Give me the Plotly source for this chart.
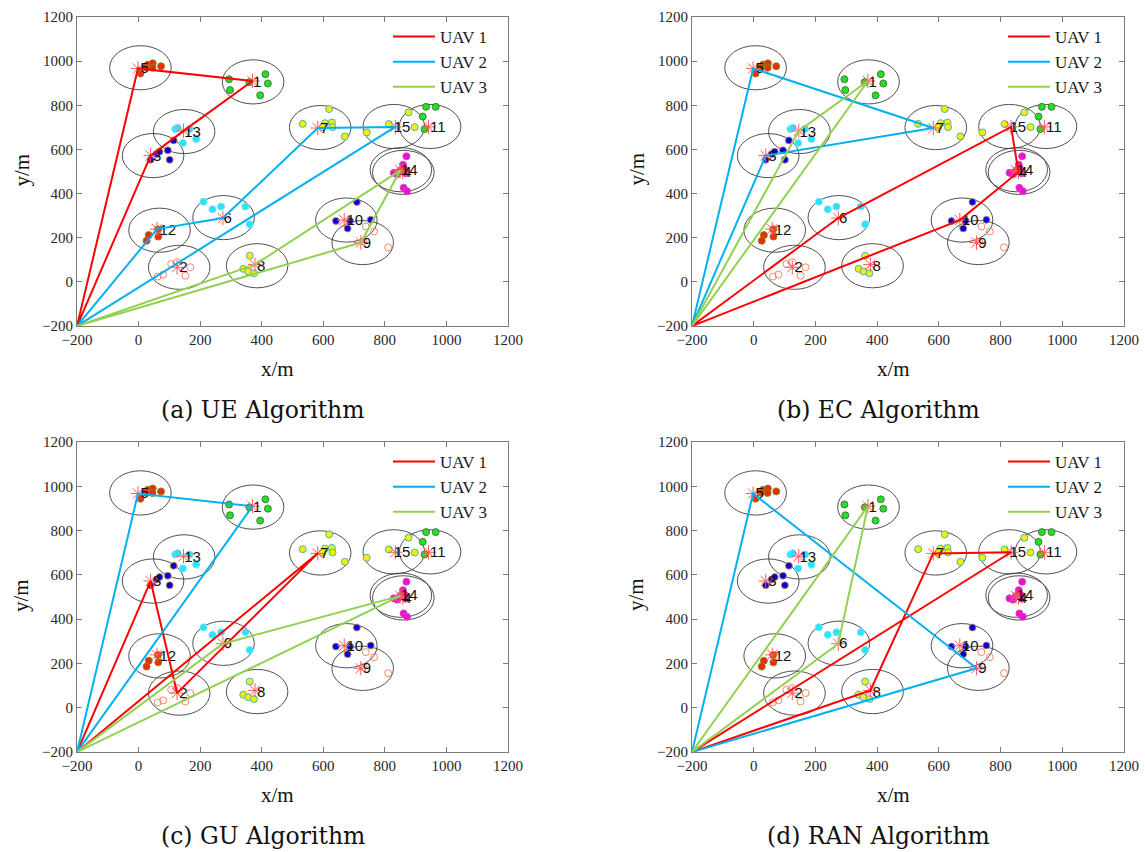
import plotly.graph_objects as go

# ---------------- data ----------------
cluster_ids = list(range(1, 16))
center_x = [372, 132, 47, 860, 6, 276, 590, 385, 728, 675, 947, 68, 148, 852, 829]
center_y = [906, 66, 572, 496, 970, 291, 699, 73, 178, 280, 704, 234, 681, 508, 704]
star_x = [370, 125, 39, 858, -2, 274, 582, 378, 722, 668, 942, 60, 146, 850, 834]
star_y = [910, 66, 572, 498, 967, 289, 697, 78, 178, 280, 702, 239, 684, 505, 702]
cluster_radius = 100
base_x, base_y = -200, -200

# users per cluster
users_1_x = [294, 412, 420, 297, 395, 360]
users_1_y = [918, 941, 899, 869, 845, 905]
users_2_x = [106, 125, 168, 152, 62, 80]
users_2_y = [81, 89, 66, 28, 24, 33]
users_3_x = [39, 58, 68, 95, 101, 114]
users_3_y = [553, 579, 590, 596, 553, 641]
users_4_x = [852, 868, 840]
users_4_y = [505, 492, 488]
users_5_x = [6, 30, 46, 45, 73, 22]
users_5_y = [944, 984, 990, 970, 977, 972]
users_6_x = [211, 240, 268, 347, 361]
users_6_y = [363, 329, 341, 341, 261]
users_7_x = [533, 619, 606, 628, 630, 670, 598]
users_7_y = [716, 783, 719, 722, 701, 659, 701]
users_8_x = [361, 340, 356, 375]
users_8_y = [118, 59, 47, 39]
users_9_x = [738, 765, 811, 730]
users_9_y = [251, 228, 156, 184]
users_10_x = [709, 641, 687, 754, 679]
users_10_y = [362, 276, 276, 281, 242]
users_11_x = [934, 965, 923, 929]
users_11_y = [793, 793, 749, 692]
users_12_x = [33, 64, 63, 26]
users_12_y = [212, 205, 238, 186]
users_13_x = [119, 127, 166, 144, 187]
users_13_y = [692, 698, 692, 629, 647]
users_14_x = [870, 859, 865, 829, 845, 861, 872]
users_14_y = [569, 531, 509, 494, 497, 426, 411]
users_15_x = [813, 741, 897, 877]
users_15_y = [715, 677, 701, 768]

users_x = [users_1_x, users_2_x, users_3_x, users_4_x, users_5_x, users_6_x, users_7_x, users_8_x,
           users_9_x, users_10_x, users_11_x, users_12_x, users_13_x, users_14_x, users_15_x]
users_y = [users_1_y, users_2_y, users_3_y, users_4_y, users_5_y, users_6_y, users_7_y, users_8_y,
           users_9_y, users_10_y, users_11_y, users_12_y, users_13_y, users_14_y, users_15_y]
user_group = ["green", "salmon", "blue", "magenta", "red", "cyan", "yellow", "yellow",
              "salmon", "blue", "green", "red", "cyan", "magenta", "yellow"]

# UAV routes (cluster ids visited, starting and ending at base)
panel_titles = ["(a) UE Algorithm", "(b) EC Algorithm", "(c) GU Algorithm", "(d) RAN Algorithm"]
routes_uav1 = [[3, 13, 1, 5], [6, 15, 4, 10], [3, 2, 7], [8, 7, 15]]
routes_uav2 = [[12, 6, 7, 15], [5, 7, 3], [5, 1], [5, 9]]
routes_uav3 = [[8, 14, 9], [13, 1], [6, 14], [6, 1]]
uav_names = ["UAV 1", "UAV 2", "UAV 3"]

tick_vals = [-200, 0, 200, 400, 600, 800, 1000, 1200]

# ---------------- style ----------------
W, H = 1145, 852
uav_colors = ["#ff0000", "#00b0f0", "#92d050"]
group_style = {
    "red": dict(fill="#f02a10", edge="#7a8a10"),
    "green": dict(fill="#22e022", edge="#4a6a4a"),
    "cyan": dict(fill="#20e8f8", edge="#80d8ff"),
    "blue": dict(fill="#0000dd", edge="#d09060"),
    "yellow": dict(fill="#f2f200", edge="#3aa8d0"),
    "magenta": dict(fill="#f010d0", edge="#d040c0"),
    "salmon": dict(fill="rgba(0,0,0,0)", edge="#f07a5a"),
}
# panel geometry in pixels (left, right, top, bottom)
panel_px = [(77, 508, 17, 326), (692, 1124, 17, 326), (77, 508, 442, 752), (692, 1124, 442, 752)]
serif = "Liberation Serif"

fig = go.Figure()
layout = dict(width=W, height=H, margin=dict(l=0, r=0, t=0, b=0, pad=0, autoexpand=False),
              paper_bgcolor="white", plot_bgcolor="white", showlegend=True)
shapes = []
annotations = []

for p in range(4):
    sfx = "" if p == 0 else str(p + 1)
    xa, ya = "x" + sfx, "y" + sfx
    l, r, t, b = panel_px[p]
    axis_common = dict(range=[-200, 1200], tickvals=tick_vals, ticks="inside", ticklen=5,
                       tickcolor="#7a7a7a", showline=True, linecolor="#7a7a7a", linewidth=1,
                       mirror="ticks", showgrid=False, zeroline=False, automargin=False,
                       tickfont=dict(family=serif, size=15, color="#262626"))
    layout["xaxis" + sfx] = dict(axis_common, domain=[l / W, r / W], anchor=ya)
    layout["yaxis" + sfx] = dict(axis_common, domain=[1 - b / H, 1 - t / H], anchor=xa)

    # circles
    for i in range(15):
        shapes.append(dict(type="circle", xref=xa, yref=ya, layer="below",
                           x0=center_x[i] - cluster_radius, x1=center_x[i] + cluster_radius,
                           y0=center_y[i] - cluster_radius, y1=center_y[i] + cluster_radius,
                           line=dict(color="#3c3c3c", width=0.9)))
    # users
    for i in range(15):
        st = group_style[user_group[i]]
        fig.add_trace(go.Scatter(x=users_x[i], y=users_y[i], mode="markers", xaxis=xa, yaxis=ya,
                                 showlegend=False, hoverinfo="skip",
                                 marker=dict(size=7, color=st["fill"], line=dict(color=st["edge"], width=0.9))))
    # stars
    fig.add_trace(go.Scatter(x=star_x, y=star_y, mode="markers", xaxis=xa, yaxis=ya, showlegend=False,
                             marker=dict(symbol="asterisk-open", size=12, color="#ff5a5a",
                                         line=dict(color="#ff5a5a", width=1))))
    # labels
    fig.add_trace(go.Scatter(x=center_x, y=[v - 6 for v in center_y], mode="text", xaxis=xa, yaxis=ya,
                             text=[str(c) for c in cluster_ids], textposition="middle right",
                             showlegend=False, hoverinfo="skip",
                             textfont=dict(family="Liberation Sans", size=15, color="#111111")))
    # routes
    leg = "legend" if p == 0 else "legend" + str(p + 1)
    for k, routes in enumerate([routes_uav1, routes_uav2, routes_uav3]):
        seq = routes[p]
        rx = [base_x] + [star_x[c - 1] for c in seq] + [base_x]
        ry = [base_y] + [star_y[c - 1] for c in seq] + [base_y]
        fig.add_trace(go.Scatter(x=rx, y=ry, mode="lines", xaxis=xa, yaxis=ya, name=uav_names[k],
                                 legend=leg, line=dict(color=uav_colors[k], width=2)))
    layout[leg] = dict(x=(l + 311) / W, y=1 - (t + 2) / H, xanchor="left", yanchor="top",
                       bgcolor="rgba(0,0,0,0)", borderwidth=0, tracegroupgap=0, itemwidth=42,
                       font=dict(family=serif, size=17, color="#1a1a1a"))

    cx_mid = (l + r) / 2
    annotations.append(dict(text="x/m", xref="paper", yref="paper", x=(cx_mid - 15) / W,
                            y=1 - (b + 43) / H, showarrow=False, xanchor="center", yanchor="middle",
                            font=dict(family=serif, size=21, color="#111111")))
    annotations.append(dict(text="y/m", xref="paper", yref="paper", x=(l - 56) / W,
                            y=1 - ((t + b) / 2 - 2) / H, showarrow=False, textangle=-90,
                            xanchor="center", yanchor="middle",
                            font=dict(family=serif, size=21, color="#111111")))
    annotations.append(dict(text=panel_titles[p], xref="paper", yref="paper", x=(cx_mid - 30) / W,
                            y=1 - (b + 84) / H, showarrow=False, xanchor="center", yanchor="middle",
                            font=dict(family="DejaVu Serif", size=23.5, color="#111111")))

layout["shapes"] = shapes
layout["annotations"] = annotations
fig.update_layout(**layout)
fig.write_html("out.html", config={"displayModeBar": False},
               post_script="document.body.style.margin='0px';")
